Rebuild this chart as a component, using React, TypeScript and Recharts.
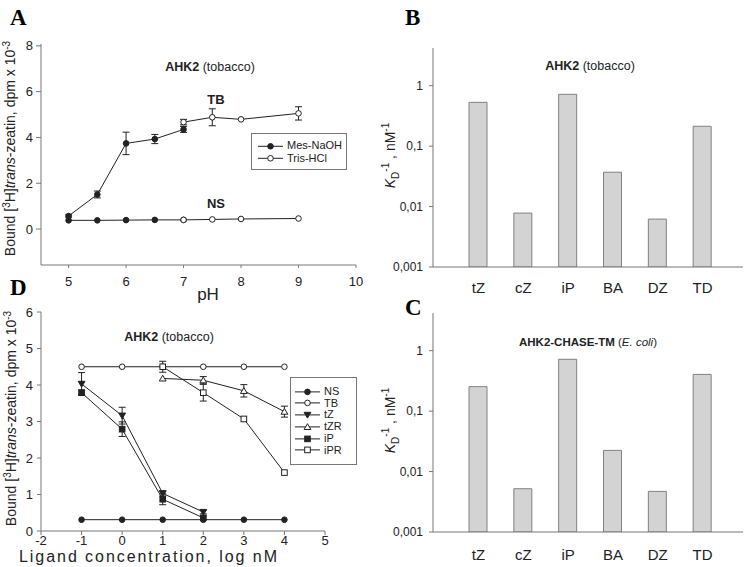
import React from 'react';
import { ScatterChart, Scatter, XAxis, YAxis, ErrorBar, Legend, BarChart, Bar } from 'recharts';

const FONT = '"Liberation Sans", Arial, Helvetica, sans-serif';
const SERIF = '"Liberation Serif", "Times New Roman", serif';
const INK = '#222';
const FRAME = '#777';
const BAR_FILL = '#d3d3d3';
const BAR_STROKE = '#808080';

// ---------- Panel A: binding vs pH ----------
const pHMes = [5, 5.5, 6, 6.5, 7];
const tbMes = [0.57, 1.51, 3.74, 3.93, 4.35];
const tbMesErr = [0.05, 0.15, 0.49, 0.2, 0.13];
const nsMes = [0.38, 0.38, 0.39, 0.4, 0.4];
const pHTris = [7, 7.5, 8, 9];
const tbTris = [4.67, 4.88, 4.79, 5.05];
const tbTrisErr = [0.12, 0.37, 0, 0.29];
const nsTris = [0.4, 0.42, 0.44, 0.46];
const pHTicks = [5, 6, 7, 8, 9, 10];
const boundTicksA = [0, 2, 4, 6, 8];

// ---------- Panel D: competition ----------
const logConc = [-1, 0, 1, 2, 3, 4];
const concLow = [-1, 0, 1, 2];
const concHigh = [1, 2, 3, 4];
const logConcTicks = [-2, -1, 0, 1, 2, 3, 4, 5];
const boundTicksD = [0, 1, 2, 3, 4, 5, 6];
const nsD = [0.31, 0.31, 0.31, 0.31, 0.31, 0.31];
const tbD = [4.5, 4.5, 4.5, 4.5, 4.5, 4.5];
const tZ = [4.03, 3.16, 1.03, 0.52];
const tZErr = [0.31, 0.23, 0.07, 0.05];
const tZR = [4.18, 4.13, 3.84, 3.27];
const tZRErr = [0, 0.1, 0.17, 0.15];
const iP = [3.79, 2.79, 0.87, 0.36];
const iPErr = [0.07, 0.2, 0.15, 0.05];
const iPR = [4.5, 3.79, 3.07, 1.6];
const iPRErr = [0.15, 0.23, 0, 0];

// ---------- Panels B, C: affinities ----------
const ligands = ['tZ', 'cZ', 'iP', 'BA', 'DZ', 'TD'];
const kdInvTobacco = [0.53, 0.0078, 0.72, 0.037, 0.0062, 0.213];
const kdInvEcoli = [0.254, 0.0052, 0.72, 0.0224, 0.0047, 0.405];
const kdTicks = [0.001, 0.01, 0.1, 1];

const rows = (xs: number[], ys: number[], errs?: number[]) =>
  xs.map((x, i) => ({ x, y: ys[i], err: errs && errs[i] ? errs[i] : undefined }));

const barRows = (vals: number[]) => ligands.map((name, i) => ({ name, v: vals[i] }));

type Kind = 'circleFilled' | 'circleOpen' | 'triDown' | 'triUp' | 'squareFilled' | 'squareOpen';

const Marker = ({ kind, cx, cy }: { kind: Kind; cx: number; cy: number }) => {
  if (cx == null || cy == null || isNaN(cx) || isNaN(cy)) return <g />;
  const r = 2.8;
  switch (kind) {
    case 'circleFilled':
      return <circle cx={cx} cy={cy} r={r} fill={INK} stroke={INK} strokeWidth={1} />;
    case 'circleOpen':
      return <circle cx={cx} cy={cy} r={r} fill="#fff" stroke={INK} strokeWidth={1} />;
    case 'squareFilled':
      return <rect x={cx - r} y={cy - r} width={2 * r} height={2 * r} fill={INK} stroke={INK} strokeWidth={1} />;
    case 'squareOpen':
      return <rect x={cx - r} y={cy - r} width={2 * r} height={2 * r} fill="#fff" stroke={INK} strokeWidth={1} />;
    case 'triDown':
      return (
        <path d={`M${cx - 3.4},${cy - 2.6}L${cx + 3.4},${cy - 2.6}L${cx},${cy + 3.2}Z`} fill={INK} stroke={INK} strokeWidth={1} />
      );
    case 'triUp':
      return (
        <path d={`M${cx - 3.4},${cy + 2.6}L${cx + 3.4},${cy + 2.6}L${cx},${cy - 3.2}Z`} fill="#fff" stroke={INK} strokeWidth={1} />
      );
  }
  return <g />;
};

const shapeOf = (kind: Kind) => (p: any) => <Marker kind={kind} cx={p.cx} cy={p.cy} />;

type LegendItem = { name: string; kind: Kind };

const LegendBox = ({ items, w, h, rowH, padTop, padLeft, fontSize }: any) => (
  <div
    style={{
      width: w,
      height: h,
      boxSizing: 'border-box',
      border: `1px solid ${FRAME}`,
      background: '#fff',
      paddingTop: padTop,
      paddingLeft: padLeft,
      fontFamily: FONT,
      fontSize,
      color: INK,
    }}
  >
    {items.map((it: LegendItem) => (
      <div key={it.name} style={{ height: rowH, display: 'flex', alignItems: 'center' }}>
        <svg width={26} height={rowH} style={{ display: 'block' }}>
          <line x1={0} x2={25} y1={rowH / 2} y2={rowH / 2} stroke={INK} strokeWidth={1} />
          <Marker kind={it.kind} cx={12.5} cy={rowH / 2} />
        </svg>
        <span style={{ marginLeft: 3, lineHeight: 1 }}>{it.name}</span>
      </div>
    ))}
  </div>
);

const legendA: LegendItem[] = [
  { name: 'Mes-NaOH', kind: 'circleFilled' },
  { name: 'Tris-HCl', kind: 'circleOpen' },
];
const legendD: LegendItem[] = [
  { name: 'NS', kind: 'circleFilled' },
  { name: 'TB', kind: 'circleOpen' },
  { name: 'tZ', kind: 'triDown' },
  { name: 'tZR', kind: 'triUp' },
  { name: 'iP', kind: 'squareFilled' },
  { name: 'iPR', kind: 'squareOpen' },
];

const BoundLabel = ({ cx, cy }: { cx: number; cy: number }) => (
  <text
    transform={`translate(${cx},${cy}) rotate(-90)`}
    textAnchor="middle"
    fontSize={14}
    fontFamily={FONT}
    fill={INK}
  >
    Bound [<tspan dy={-5} fontSize={10}>3</tspan>
    <tspan dy={5}>H]</tspan>
    <tspan fontStyle="italic">trans</tspan>-zeatin, dpm x 10
    <tspan dy={-5} fontSize={10}>-3</tspan>
  </text>
);

const KdLabel = ({ cx, cy }: { cx: number; cy: number }) => (
  <text
    transform={`translate(${cx},${cy}) rotate(-90)`}
    textAnchor="middle"
    fontSize={14}
    fontFamily={FONT}
    fill={INK}
  >
    <tspan fontStyle="italic">K</tspan>
    <tspan dy={4} fontSize={10}>D</tspan>
    <tspan dy={-10} fontSize={10}>-1</tspan>
    <tspan dy={6}> , nM</tspan>
    <tspan dy={-6} fontSize={10}>-1</tspan>
  </text>
);

const tickA = { fill: INK, fontSize: 13, fontFamily: FONT };

const Title = ({ x, y, bold, rest, size, italicPart }: any) => (
  <text x={x} y={y} textAnchor="middle" fontSize={size} fontFamily={FONT} fill={INK}>
    <tspan fontWeight="bold">{bold}</tspan>
    {italicPart ? (
      <>
        {' ('}
        <tspan fontStyle="italic">{italicPart}</tspan>
        {')'}
      </>
    ) : (
      ' ' + rest
    )}
  </text>
);

const PanelLetter = ({ ch, left, top }: any) => (
  <div
    style={{
      position: 'absolute',
      left,
      top,
      fontFamily: SERIF,
      fontWeight: 'bold',
      fontSize: 23,
      lineHeight: 1,
      color: '#000',
    }}
  >
    {ch}
  </div>
);

const ChartA = () => (
  <ScatterChart width={370} height={310} margin={{ top: 44, right: 14, bottom: 5, left: 11 }}>
    <XAxis
      type="number"
      dataKey="x"
      domain={[4.52, 10]}
      ticks={pHTicks}
      allowDataOverflow
      height={40}
      tickSize={3}
      tickMargin={9}
      stroke={FRAME}
      tick={tickA}
      label={{
        content: (p: any) => (
          <text x={208} y={p.viewBox.y + 35} textAnchor="middle" fontSize={17} fontFamily={FONT} fill={INK}>
            pH
          </text>
        ),
      }}
    />
    <YAxis
      type="number"
      dataKey="y"
      domain={[-1.57, 8.08]}
      ticks={boundTicksA}
      allowDataOverflow
      width={30}
      tickSize={5}
      tickMargin={3}
      stroke={FRAME}
      tick={tickA}
      label={{
        content: (p: any) => <BoundLabel cx={p.viewBox.x + 4} cy={p.viewBox.y + p.viewBox.height / 2 - 6} />,
      }}
    />
    <XAxis xAxisId="top" orientation="top" type="number" domain={[0, 1]} height={0} tick={false} tickLine={false} stroke={FRAME} />
    <YAxis yAxisId="right" orientation="right" type="number" domain={[0, 1]} width={0} tick={false} tickLine={false} stroke={FRAME} />
    <Scatter data={rows(pHMes, nsMes)} line={{ stroke: INK, strokeWidth: 1 }} lineType="joint" shape={shapeOf('circleFilled')} isAnimationActive={false} />
    <Scatter data={rows(pHTris, nsTris)} line={{ stroke: INK, strokeWidth: 1 }} lineType="joint" shape={shapeOf('circleOpen')} isAnimationActive={false} />
    <Scatter data={rows(pHMes, tbMes, tbMesErr)} line={{ stroke: INK, strokeWidth: 1 }} lineType="joint" shape={shapeOf('circleFilled')} isAnimationActive={false}>
      <ErrorBar dataKey="err" direction="y" width={3.5} stroke={INK} strokeWidth={1} />
    </Scatter>
    <Scatter data={rows(pHTris, tbTris, tbTrisErr)} line={{ stroke: INK, strokeWidth: 1 }} lineType="joint" shape={shapeOf('circleOpen')} isAnimationActive={false}>
      <ErrorBar dataKey="err" direction="y" width={3.5} stroke={INK} strokeWidth={1} />
    </Scatter>
    <Title x={210} y={71} bold="AHK2" rest="(tobacco)" size={12.5} />
    <text x={216} y={104} textAnchor="middle" fontSize={13} fontWeight="bold" fontFamily={FONT} fill={INK}>
      TB
    </text>
    <text x={216} y={208} textAnchor="middle" fontSize={13} fontWeight="bold" fontFamily={FONT} fill={INK}>
      NS
    </text>
    <Legend
      layout="vertical"
      align="center"
      verticalAlign="middle"
      wrapperStyle={{ left: 251, top: 133, width: 96, height: 37 }}
      content={() => <LegendBox items={legendA} w={96} h={37} rowH={12.6} padTop={5.5} padLeft={6} fontSize={11} />}
    />
  </ScatterChart>
);

const ChartD = () => (
  <ScatterChart width={370} height={277} margin={{ top: 22, right: 45, bottom: 2, left: 11 }}>
    <XAxis
      type="number"
      dataKey="x"
      domain={[-2, 5]}
      ticks={logConcTicks}
      allowDataOverflow
      height={34}
      tickSize={4}
      tickMargin={1}
      stroke={FRAME}
      tick={tickA}
      label={{
        content: (p: any) => (
          <text x={148} y={p.viewBox.y + 31} textAnchor="middle" fontSize={16} fontFamily={FONT} fill={INK} textLength={258} lengthAdjust="spacing">
            Ligand concentration, log nM
          </text>
        ),
      }}
    />
    <YAxis
      type="number"
      dataKey="y"
      domain={[0, 6]}
      ticks={boundTicksD}
      allowDataOverflow
      width={30}
      tickSize={4}
      tickMargin={4}
      stroke={FRAME}
      tick={tickA}
      label={{
        content: (p: any) => <BoundLabel cx={p.viewBox.x + 5} cy={p.viewBox.y + p.viewBox.height / 2 - 3} />,
      }}
    />
    <XAxis xAxisId="top" orientation="top" type="number" domain={[0, 1]} height={0} tick={false} tickLine={false} stroke={FRAME} />
    <YAxis yAxisId="right" orientation="right" type="number" domain={[0, 1]} width={0} tick={false} tickLine={false} stroke={FRAME} />
    <Scatter data={rows(logConc, nsD)} line={{ stroke: INK, strokeWidth: 1 }} lineType="joint" shape={shapeOf('circleFilled')} isAnimationActive={false} />
    <Scatter data={rows(logConc, tbD)} line={{ stroke: INK, strokeWidth: 1 }} lineType="joint" shape={shapeOf('circleOpen')} isAnimationActive={false} />
    <Scatter data={rows(concLow, tZ, tZErr)} line={{ stroke: INK, strokeWidth: 1 }} lineType="joint" shape={shapeOf('triDown')} isAnimationActive={false}>
      <ErrorBar dataKey="err" direction="y" width={3.5} stroke={INK} strokeWidth={1} />
    </Scatter>
    <Scatter data={rows(concHigh, tZR, tZRErr)} line={{ stroke: INK, strokeWidth: 1 }} lineType="joint" shape={shapeOf('triUp')} isAnimationActive={false}>
      <ErrorBar dataKey="err" direction="y" width={3.5} stroke={INK} strokeWidth={1} />
    </Scatter>
    <Scatter data={rows(concLow, iP, iPErr)} line={{ stroke: INK, strokeWidth: 1 }} lineType="joint" shape={shapeOf('squareFilled')} isAnimationActive={false}>
      <ErrorBar dataKey="err" direction="y" width={3.5} stroke={INK} strokeWidth={1} />
    </Scatter>
    <Scatter data={rows(concHigh, iPR, iPRErr)} line={{ stroke: INK, strokeWidth: 1 }} lineType="joint" shape={shapeOf('squareOpen')} isAnimationActive={false}>
      <ErrorBar dataKey="err" direction="y" width={3.5} stroke={INK} strokeWidth={1} />
    </Scatter>
    <Title x={169} y={51} bold="AHK2" rest="(tobacco)" size={12.5} />
    <Legend
      layout="vertical"
      align="center"
      verticalAlign="middle"
      wrapperStyle={{ left: 290, top: 87, width: 67, height: 88 }}
      content={() => <LegendBox items={legendD} w={67} h={88} rowH={11.8} padTop={7.5} padLeft={4} fontSize={11} />}
    />
  </ScatterChart>
);

const KdChart = ({ values, height, top, bottom, tickMargin, title }: any) => (
  <BarChart width={369} height={height} data={barRows(values)} margin={{ top, right: 6, bottom, left: 3 }}>
    <XAxis
      dataKey="name"
      type="category"
      padding={{ left: 23, right: 18 }}
      height={28}
      tickLine={false}
      tickSize={6}
      tickMargin={tickMargin}
      stroke={FRAME}
      tick={{ fill: INK, fontSize: 15, fontFamily: FONT }}
      interval={0}
    />
    <YAxis
      type="number"
      scale="log"
      domain={[0.001, 4.2]}
      ticks={kdTicks}
      allowDataOverflow
      width={50}
      tickSize={4}
      tickMargin={6}
      stroke={FRAME}
      tick={{ fill: INK, fontSize: 12, fontFamily: FONT }}
      tickFormatter={(v: number) => String(v).replace('.', ',')}
      label={{
        content: (p: any) => <KdLabel cx={p.viewBox.x + 12} cy={p.viewBox.y + p.viewBox.height / 2 - 2} />,
      }}
    />
    <XAxis xAxisId="top" orientation="top" dataKey="name" height={0} tick={false} tickLine={false} stroke={FRAME} />
    <YAxis yAxisId="right" orientation="right" type="number" domain={[0, 1]} width={0} tick={false} tickLine={false} stroke={FRAME} />
    <Bar dataKey="v" barSize={18} fill={BAR_FILL} stroke={BAR_STROKE} strokeWidth={1} isAnimationActive={false} />
    {title}
  </BarChart>
);

export default function App() {
  return (
    <div
      style={{
        position: 'absolute',
        left: 0,
        top: 0,
        width: 749,
        height: 567,
        background: '#fff',
        overflow: 'hidden',
      }}
    >
      <div style={{ position: 'absolute', left: 0, top: 0 }}>
        <ChartA />
      </div>
      <div style={{ position: 'absolute', left: 0, top: 290 }}>
        <ChartD />
      </div>
      <div style={{ position: 'absolute', left: 380, top: 0 }}>
        <KdChart
          values={kdInvTobacco}
          height={300}
          top={48}
          bottom={5}
          tickMargin={9}
          title={<Title x={210} y={70} bold="AHK2" rest="(tobacco)" size={12.5} />}
        />
      </div>
      <div style={{ position: 'absolute', left: 380, top: 295 }}>
        <KdChart
          values={kdInvEcoli}
          height={272}
          top={18}
          bottom={7}
          tickMargin={11}
          title={<Title x={208} y={51} bold="AHK2-CHASE-TM" italicPart="E. coli" size={11.5} />}
        />
      </div>
      <PanelLetter ch="A" left={10} top={6} />
      <PanelLetter ch="B" left={405} top={6} />
      <PanelLetter ch="D" left={10} top={276} />
      <PanelLetter ch="C" left={405} top={296} />
    </div>
  );
}
